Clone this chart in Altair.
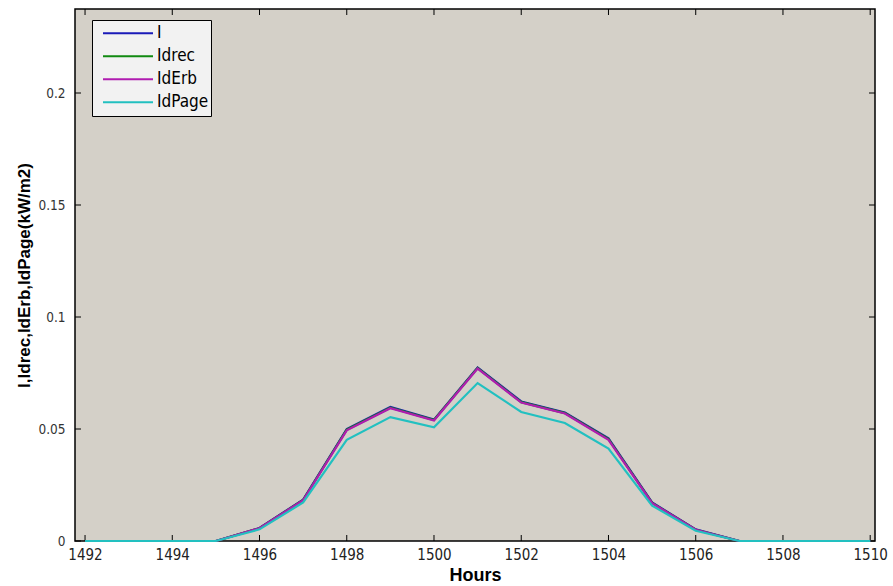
import altair as alt
import pandas as pd

hours = list(range(1492, 1511))
I_vals =      [0, 0, 0, 0, 0.0058, 0.0185, 0.0500, 0.0598, 0.0542, 0.0775, 0.0623, 0.0573, 0.0458, 0.0172, 0.0052, 0, 0, 0, 0]
Idrec_vals =  [0, 0, 0, 0, 0.0057, 0.0183, 0.0497, 0.0595, 0.0540, 0.0772, 0.0620, 0.0571, 0.0455, 0.0170, 0.0050, 0, 0, 0, 0]
IdErb_vals =  [0, 0, 0, 0, 0.0057, 0.0182, 0.0494, 0.0593, 0.0538, 0.0770, 0.0618, 0.0569, 0.0452, 0.0169, 0.0050, 0, 0, 0, 0]
IdPage_vals = [0, 0, 0, 0, 0.0052, 0.0172, 0.0452, 0.0553, 0.0508, 0.0705, 0.0576, 0.0527, 0.0413, 0.0158, 0.0046, 0, 0, 0, 0]

series = ["I", "Idrec", "IdErb", "IdPage"]
colors = ["#1a1ab8", "#118a11", "#b01cb0", "#22c0c0"]
x_ticks = [1492, 1494, 1496, 1498, 1500, 1502, 1504, 1506, 1508, 1510]
y_ticks = [0, 0.05, 0.1, 0.15, 0.2]

rows = []
for name, vals in zip(series, [I_vals, Idrec_vals, IdErb_vals, IdPage_vals]):
    for h, v in zip(hours, vals):
        rows.append({"Hours": h, "value": v, "series": name, "order": series.index(name)})
df = pd.DataFrame(rows)

COND = "DejaVu Sans Condensed, Liberation Sans, sans-serif"
W, H = 800, 532
xs = alt.Scale(domain=[1491.77, 1510.11], nice=False, zero=False)
ys = alt.Scale(domain=[0, 0.2375], nice=False)

lines = alt.Chart(df).mark_line(strokeWidth=2.2).encode(
    x=alt.X("Hours:Q", scale=xs,
            axis=alt.Axis(values=x_ticks, title="Hours", grid=False, tickSize=0, domain=False,
                          labelPadding=6, labelFont=COND, labelFontSize=15,
                          labelColor="#222", titleFont="Liberation Sans", titleFontSize=18,
                          titleFontWeight="bold", titleColor="#000", titlePadding=4,
                          format="d", labelFlush=False)),
    y=alt.Y("value:Q", scale=ys,
            axis=alt.Axis(values=y_ticks, title="I,Idrec,IdErb,IdPage(kW/m2)", grid=False, tickSize=0,
                          domain=False, labelPadding=10, labelFont=COND, labelFontSize=13.5,
                          labelColor="#333", titleFont="Liberation Sans", titleFontSize=17,
                          titleFontWeight="bold", titleColor="#000", titlePadding=4,
                          labelExpr="datum.value == 0 ? '0' : format(datum.value, '.2~f')")),
    color=alt.Color("series:N", scale=alt.Scale(domain=series, range=colors),
                    legend=alt.Legend(title=None, orient="none", legendX=17, legendY=11,
                                      fillColor="#f2f2f2", strokeColor="#000", padding=2,
                                      symbolType="stroke", symbolSize=2500, symbolStrokeWidth=2,
                                      symbolOffset=8, clipHeight=22.5,
                                      labelFont=COND, labelFontSize=17,
                                      labelOffset=3, labelColor="#000", rowPadding=0,
                                      cornerRadius=0)),
    order=alt.Order("order:Q"),
    detail="series:N",
)

xt = pd.DataFrame({"t": x_ticks})
yt = pd.DataFrame({"t": y_ticks})
bx = alt.Chart(xt).mark_rule(color="#000", strokeWidth=1).encode(
    x=alt.X("t:Q", scale=xs), y=alt.value(H), y2=alt.value(H - 6))
tx = alt.Chart(xt).mark_rule(color="#000", strokeWidth=1).encode(
    x=alt.X("t:Q", scale=xs), y=alt.value(0), y2=alt.value(6))
ly = alt.Chart(yt).mark_rule(color="#000", strokeWidth=1).encode(
    y=alt.Y("t:Q", scale=ys), x=alt.value(0), x2=alt.value(6))
ry = alt.Chart(yt).mark_rule(color="#000", strokeWidth=1).encode(
    y=alt.Y("t:Q", scale=ys), x=alt.value(W), x2=alt.value(W - 6))

chart = alt.layer(bx, tx, ly, ry, lines).properties(
    width=W, height=H,
    autosize=alt.AutoSizeParams(type="none"),
    padding={"left": 75, "top": 9, "right": 18, "bottom": 45},
    background="#ffffff",
).configure_view(fill="#d4d0c8", stroke="#000", strokeWidth=1.5)

chart.save("out.html", embed_options={"renderer": "svg", "actions": False})
